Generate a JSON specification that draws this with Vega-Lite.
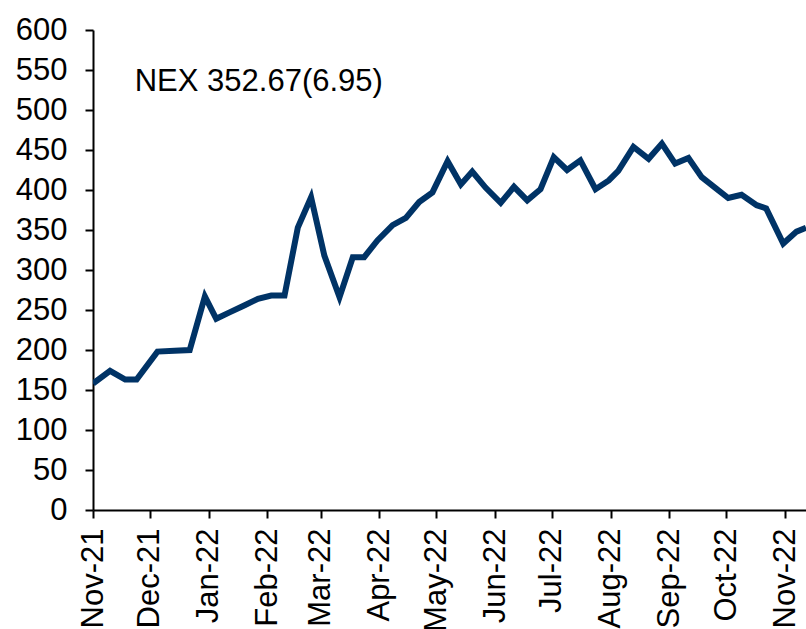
{
  "$schema": "https://vega.github.io/schema/vega-lite/v6.json",
  "autosize": {"type": "none"},
  "width": 713,
  "height": 480,
  "padding": {"left": 93, "top": 30, "right": 0, "bottom": 119},
  "background": "white",
  "config": {
    "view": {"stroke": null},
    "font": "Liberation Sans",
    "axis": {"grid": false, "domainColor": "black", "domainWidth": 2, "tickColor": "black", "tickWidth": 2, "tickSize": 8, "labelColor": "black", "labelFont": "Liberation Sans", "labelFontSize": 31, "title": null, "labelOverlap": false}
  },
  "encoding": {
    "x": {"field": "date", "type": "temporal",
          "scale": {"domain": ["2021-11-01", "2022-11-12"]},
          "axis": {"format": "%b-%y", "labelAngle": -90, "labelAlign": "right", "labelBaseline": "middle", "labelPadding": 10,
                   "values": ["2021-11-01", "2021-12-01", "2022-01-01", "2022-02-01", "2022-03-01", "2022-04-01", "2022-05-01", "2022-06-01", "2022-07-01", "2022-08-01", "2022-09-01", "2022-10-01", "2022-11-01"],
                   "tickCount": 20, "labelFlush": false, "labelOverlap": false}},
    "y": {"field": "value", "type": "quantitative",
          "scale": {"domain": [0, 600], "nice": false},
          "axis": {"values": [0, 50, 100, 150, 200, 250, 300, 350, 400, 450, 500, 550, 600], "tickCount": 20, "labelPadding": 18, "labelOverlap": false}}
  },
  "layer": [
    {
      "data": {"values": [
        {"date": "2021-11-01", "value": 158},
        {"date": "2021-11-10", "value": 174},
        {"date": "2021-11-18", "value": 163},
        {"date": "2021-11-24", "value": 163},
        {"date": "2021-12-05", "value": 198},
        {"date": "2021-12-14", "value": 199},
        {"date": "2021-12-22", "value": 200},
        {"date": "2021-12-30", "value": 267},
        {"date": "2022-01-05", "value": 239},
        {"date": "2022-01-12", "value": 247},
        {"date": "2022-01-20", "value": 256},
        {"date": "2022-01-27", "value": 264},
        {"date": "2022-02-03", "value": 268},
        {"date": "2022-02-10", "value": 268},
        {"date": "2022-02-17", "value": 353},
        {"date": "2022-02-24", "value": 391},
        {"date": "2022-03-03", "value": 318},
        {"date": "2022-03-11", "value": 266},
        {"date": "2022-03-18", "value": 316},
        {"date": "2022-03-24", "value": 316},
        {"date": "2022-03-31", "value": 337},
        {"date": "2022-04-08", "value": 356},
        {"date": "2022-04-15", "value": 365},
        {"date": "2022-04-22", "value": 385},
        {"date": "2022-04-29", "value": 397},
        {"date": "2022-05-07", "value": 436},
        {"date": "2022-05-14", "value": 407},
        {"date": "2022-05-20", "value": 423},
        {"date": "2022-05-27", "value": 403},
        {"date": "2022-06-04", "value": 384},
        {"date": "2022-06-11", "value": 404},
        {"date": "2022-06-18", "value": 387},
        {"date": "2022-06-25", "value": 401},
        {"date": "2022-07-02", "value": 441},
        {"date": "2022-07-09", "value": 425},
        {"date": "2022-07-16", "value": 437},
        {"date": "2022-07-24", "value": 401},
        {"date": "2022-07-31", "value": 412},
        {"date": "2022-08-05", "value": 424},
        {"date": "2022-08-13", "value": 454},
        {"date": "2022-08-21", "value": 439},
        {"date": "2022-08-28", "value": 458},
        {"date": "2022-09-04", "value": 433},
        {"date": "2022-09-11", "value": 440},
        {"date": "2022-09-18", "value": 416},
        {"date": "2022-09-25", "value": 403},
        {"date": "2022-10-02", "value": 390},
        {"date": "2022-10-09", "value": 394},
        {"date": "2022-10-17", "value": 381},
        {"date": "2022-10-22", "value": 377},
        {"date": "2022-10-31", "value": 333},
        {"date": "2022-11-07", "value": 348},
        {"date": "2022-11-12", "value": 352.67}
      ]},
      "mark": {"type": "line", "color": "#003366", "strokeWidth": 6, "strokeJoin": "miter", "strokeCap": "butt", "clip": true}
    },
    {
      "data": {"values": [{"date": "2021-11-23", "value": 535, "label": "NEX 352.67(6.95)"}]},
      "mark": {"type": "text", "align": "left", "baseline": "middle", "font": "Liberation Sans", "fontSize": 31, "color": "black"},
      "encoding": {
        "text": {"field": "label"}
      }
    }
  ]
}
